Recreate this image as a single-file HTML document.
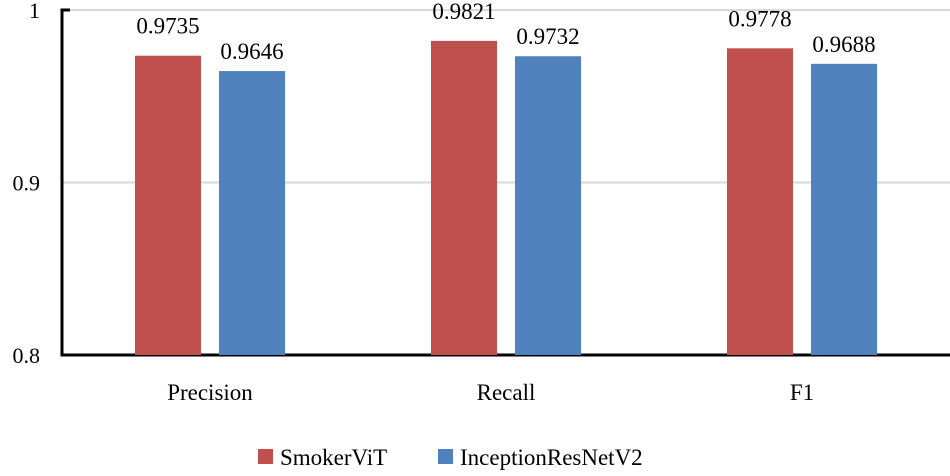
<!DOCTYPE html>
<html><head><meta charset="utf-8"><style>
body{margin:0;background:#fff;}
svg text{font-family:"Liberation Serif",serif;fill:#000;}
</style></head><body>
<svg width="950" height="471" id="chart">
</svg>
<script>
const categories=["Precision","Recall","F1"];
const smoker=[0.9735,0.9821,0.9778];
const inception=[0.9646,0.9732,0.9688];
const ticks=[0.8,0.9,1];
const tickLabels=["0.8","0.9","1"];
const svg=document.getElementById('chart');
const NS='http://www.w3.org/2000/svg';
const x0=62,x1=950,yTop=10,yBot=355,vMin=0.8,vMax=1;
const y=v=>yBot-(v-vMin)/(vMax-vMin)*(yBot-yTop);
const bw=(x1-x0)/categories.length;
function mk(t,a){const e=document.createElementNS(NS,t);for(const k in a)e.setAttribute(k,a[k]);svg.appendChild(e);return e;}
ticks.forEach((t,i)=>{
  if(t>vMin){const g=mk('line',{x1:x0,x2:x1,y1:y(t),y2:y(t),stroke:'#d9d9d9','stroke-width':2});
  
  }
  const l=mk('text',{x:40,y:y(t)+8,'text-anchor':'end','font-size':22});
  l.textContent=tickLabels[i];
  
  
});
const ax=mk('path',{d:`M${x0+8} ${yTop} H${x0} V${yBot} H${x1}`,fill:'none',stroke:'#000','stroke-width':3});


categories.forEach((c,i)=>{
  const cx=x0+bw*(i+0.5);
  [[smoker[i],'#c0504d',cx-75],[inception[i],'#4f81bd',cx+9]].forEach(([v,col,bx],j)=>{
    const r=mk('rect',{x:bx,y:y(v),width:66,height:yBot-y(v),fill:col});
    
    
    const t=mk('text',{x:bx+33,y:y(v)-(j?12:22),'text-anchor':'middle','font-size':23});
    t.textContent=v.toFixed(4);
    
    
  });
  const l=mk('text',{x:cx,y:400,'text-anchor':'middle','font-size':23});
  l.textContent=c;
  
  
});
[['SmokerViT','#c0504d',258],['InceptionResNetV2','#4f81bd',438]].forEach(([n,col,lx])=>{
  const g=document.createElementNS(NS,'g');svg.appendChild(g);
  
  
  const r=document.createElementNS(NS,'rect');
  r.setAttribute('x',lx);r.setAttribute('y',449);r.setAttribute('width',15);r.setAttribute('height',15);r.setAttribute('fill',col);
  g.appendChild(r);
  const t=document.createElementNS(NS,'text');
  t.setAttribute('x',lx+22);t.setAttribute('y',465);t.setAttribute('font-size',23);
  t.textContent=n;g.appendChild(t);
});
</script>
</body></html>
